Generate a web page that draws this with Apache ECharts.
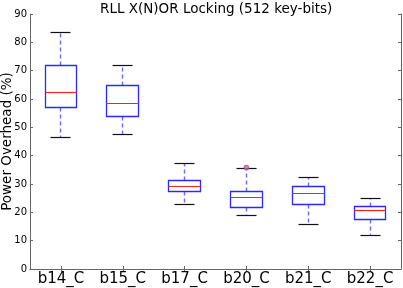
<!DOCTYPE html>
<html>
<head>
<meta charset="utf-8">
<script src="https://cdn.jsdelivr.net/npm/echarts@6/dist/echarts.min.js"></script>
<style>html,body{margin:0;padding:0;background:#fff}#c{width:403px;height:288px}</style>
</head>
<body>
<div id="c"></div>
<script>
const categories = ['b14_C','b15_C','b17_C','b20_C','b21_C','b22_C'];
const whiskerLow  = [46.3, 47.4, 22.9, 18.8, 15.8, 11.9];
const q1          = [57.1, 53.8, 27.2, 21.6, 22.6, 17.5];
const median      = [62.4, 58.5, 29.0, 25.3, 26.7, 20.5];
const q3          = [71.8, 64.6, 31.4, 27.2, 29.0, 22.0];
const whiskerHigh = [83.5, 71.9, 37.3, 35.5, 32.2, 25.0];
const outlierCats = ['b20_C'];
const outlierVals = [35.8];
const yTicks = [0,10,20,30,40,50,60,70,80,90];

const FONT = 'DejaVu Sans';
const boxData = categories.map((c, i) => [i, whiskerLow[i], q1[i], median[i], q3[i], whiskerHigh[i]]);
const outlierData = outlierCats.map((c, k) => [categories.indexOf(c), outlierVals[k]]);

function h(v){ return Math.round(v - 0.5) + 0.5; }

const chart = echarts.init(document.getElementById('c'), null, {renderer: 'canvas'});
chart.setOption({
  animation: false,
  title: {
    text: 'RLL X(N)OR Locking (512 key-bits)',
    left: 100, top: 2, padding: 0,
    textStyle: {fontFamily: FONT, fontSize: 13.5, fontWeight: 'normal', color: '#000'}
  },
  grid: {left: 30, right: 2, top: 14, bottom: 19, show: false, containLabel: false, outerBoundsMode: 'none'},
  xAxis: [{
    type: 'category', data: categories, boundaryGap: true,
    axisLine: {show: true, lineStyle: {color: '#666', width: 1}},
    axisTick: {show: true, inside: true, alignWithLabel: true, length: 3, lineStyle: {color: '#666'}},
    axisLabel: {fontFamily: FONT, fontSize: 15, color: '#000', margin: 3, interval: 0},
    splitLine: {show: false}
  }, {
    type: 'category', data: categories, boundaryGap: true, position: 'top',
    axisLine: {show: true, lineStyle: {color: '#666', width: 1}},
    axisTick: {show: true, inside: true, alignWithLabel: true, length: 3, lineStyle: {color: '#666'}},
    axisLabel: {show: false}, splitLine: {show: false}
  }],
  yAxis: [{
    type: 'value', min: yTicks[0], max: yTicks[yTicks.length-1], interval: 10,
    name: 'Power Overhead (%)', nameLocation: 'middle', nameGap: 16, nameMoveOverlap: false,
    nameTextStyle: {fontFamily: FONT, fontSize: 13.5, color: '#000'},
    axisLine: {show: true, lineStyle: {color: '#666', width: 1}},
    axisTick: {show: true, inside: true, length: 3, lineStyle: {color: '#666'}},
    axisLabel: {fontFamily: FONT, fontSize: 10, color: '#000', margin: 3},
    splitLine: {show: false}
  }, {
    type: 'value', min: yTicks[0], max: yTicks[yTicks.length-1], interval: 10, position: 'right',
    axisLine: {show: true, lineStyle: {color: '#666', width: 1}},
    axisTick: {show: true, inside: true, length: 3, lineStyle: {color: '#666'}},
    axisLabel: {show: false}, splitLine: {show: false}
  }],
  series: [{
    type: 'custom',
    xAxisIndex: 0, yAxisIndex: 0,
    data: boxData,
    encode: {x: 0, y: [1,2,3,4,5]},
    renderItem: function(params, api){
      const i = api.value(0);
      const band = api.size([1, 0])[0];
      const bw = band * 0.51, cw = band * 0.325;
      const cx = api.coord([i, 0])[0];
      const yLo = api.coord([i, api.value(1)])[1];
      const yQ1 = api.coord([i, api.value(2)])[1];
      const yMed = api.coord([i, api.value(3)])[1];
      const yQ3 = api.coord([i, api.value(4)])[1];
      const yHi = api.coord([i, api.value(5)])[1];
      const x0 = h(cx - bw/2), x1 = h(cx + bw/2), xc = h(cx);
      const c0 = h(cx - cw/2), c1 = h(cx + cw/2);
      const blue = '#2a2aff';
      return {
        type: 'group',
        children: [
          {type: 'line', shape: {x1: xc, y1: h(yQ3), x2: xc, y2: h(yHi)}, style: {stroke: '#6b6bff', lineWidth: 1.4, lineDash: [4, 3]}},
          {type: 'line', shape: {x1: xc, y1: h(yQ1), x2: xc, y2: h(yLo)}, style: {stroke: '#6b6bff', lineWidth: 1.4, lineDash: [4, 3]}},
          {type: 'line', shape: {x1: c0, y1: h(yHi), x2: c1, y2: h(yHi)}, style: {stroke: '#111', lineWidth: 1.2}},
          {type: 'line', shape: {x1: c0, y1: h(yLo), x2: c1, y2: h(yLo)}, style: {stroke: '#111', lineWidth: 1.2}},
          {type: 'rect', shape: {x: x0, y: h(yQ3), width: x1 - x0, height: h(yQ1) - h(yQ3)}, style: {stroke: blue, fill: 'none', lineWidth: 1.3}},
          {type: 'line', shape: {x1: x0, y1: h(yMed), x2: x1, y2: h(yMed)}, style: {stroke: '#ff2020', lineWidth: 1.2}}
        ]
      };
    }
  }, {
    type: 'scatter',
    xAxisIndex: 0, yAxisIndex: 0,
    data: outlierData,
    symbol: 'circle', symbolSize: 5,
    itemStyle: {color: '#c46aa8', borderColor: '#9a3f82', borderWidth: 0.8},
    z: 5
  }]
});
</script>
</body>
</html>
